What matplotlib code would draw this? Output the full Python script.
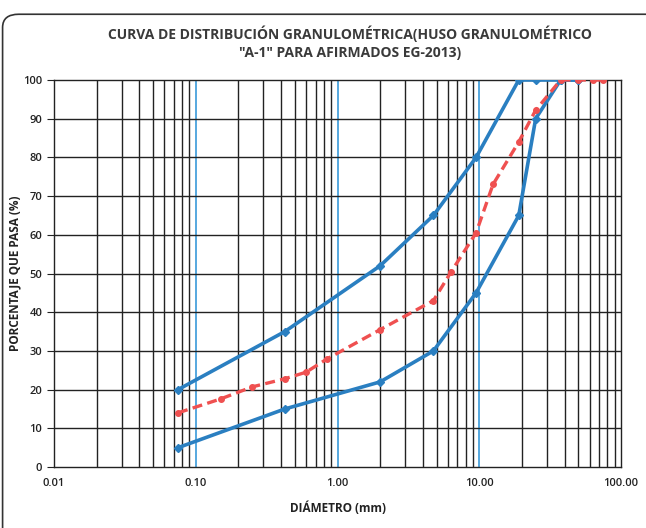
import matplotlib.pyplot as plt
from matplotlib.patches import FancyBboxPatch
from matplotlib.ticker import FixedLocator, NullFormatter

# huso A-1 (limites superior e inferior) y curva del material
tamiz_huso = [0.075, 0.425, 2.0, 4.75, 9.5, 19.0, 25.0, 37.5, 50.0]
limite_sup = [20, 35, 52, 65, 80, 100, 100, 100, 100]
limite_inf = [5, 15, 22, 30, 45, 65, 90, 100, 100]

tamiz_muestra = [0.075, 0.15, 0.25, 0.425, 0.6, 0.85, 2.0, 4.75, 6.3, 9.5,
                 12.5, 19.0, 25.0, 37.5, 50.0, 63.0, 75.0]
pasa_muestra = [14, 17.6, 20.7, 22.8, 24.5, 28, 35.5, 43, 50.3, 60.5,
                73, 84, 92.2, 100, 100, 100, 100]

etiquetas_x = ["0.01", "0.10", "1.00", "10.00", "100.00"]
valores_x = [0.01, 0.1, 1, 10, 100]

plt.rcParams['font.family'] = ['Open Sans', 'DejaVu Sans']

fig = plt.figure(figsize=(6.46, 5.28), dpi=100)
ax = fig.add_axes([0.0836, 0.1155, 0.8777, 0.733])

azul = "#2a7fc1"
rojo = "#ef5050"

ax.set_xscale("log")
ax.set_xlim(0.01, 100)
ax.set_ylim(0, 100)

# cuadricula: decadas en azul, subdivisiones en negro
menores = [m * 10.0 ** e for e in range(-2, 2) for m in range(2, 10)]
for xv in menores:
    ax.axvline(xv, color="#222222", lw=1.0, zorder=1)
for xv in [0.1, 1, 10]:
    ax.axvline(xv, color="#3a9ad9", lw=1.2, zorder=1)
for yv in range(10, 100, 10):
    ax.axhline(yv, color="#222222", lw=1.0, zorder=1)

ax.plot(tamiz_huso, limite_sup, color=azul, lw=2.6, marker="D", ms=4, zorder=3)
ax.plot(tamiz_huso, limite_inf, color=azul, lw=2.6, marker="D", ms=4, zorder=3)
ax.plot(tamiz_muestra, pasa_muestra, color=rojo, lw=2.4, ls=(0, (3, 1.6)),
        marker="o", ms=4, zorder=4)

ax.xaxis.set_major_locator(FixedLocator(valores_x))
ax.set_xticklabels(etiquetas_x)
ax.xaxis.set_minor_formatter(NullFormatter())
ax.set_yticks(range(0, 101, 10))
ax.tick_params(axis="x", which="both", length=0, labelsize=8, pad=8, colors="#222222")
ax.tick_params(axis="y", length=5, direction="out", labelsize=8, colors="#222222")
for lab in ax.get_xticklabels() + ax.get_yticklabels():
    lab.set_fontweight("semibold")

for s in ax.spines.values():
    s.set_color("#222222")
    s.set_linewidth(1.0)

ax.set_xlabel("DIÁMETRO (mm)", fontsize=8.5, fontweight="bold", color="#222222")
ax.set_ylabel("PORCENTAJE QUE PASA (%)", fontsize=8.5, fontweight="bold", color="#222222")
ax.xaxis.set_label_coords(0.5, -0.088)
ax.yaxis.set_label_coords(-0.057, 0.5)

fig.text(0.542, 0.937, "CURVA DE DISTRIBUCIÓN GRANULOMÉTRICA(HUSO GRANULOMÉTRICO",
         ha="center", va="center", fontsize=10, fontweight="bold", color="#3a3a3a")
fig.text(0.542, 0.900, "\"A-1\" PARA AFIRMADOS EG-2013)",
         ha="center", va="center", fontsize=10, fontweight="bold", color="#3a3a3a")

marco = FancyBboxPatch((0.004, -0.05), 1.2, 1.023, transform=fig.transFigure,
                       boxstyle="round,pad=0,rounding_size=0.025",
                       fc="none", ec="#333333", lw=1.2)
fig.patches.append(marco)

fig.savefig("out.png", dpi=100)
